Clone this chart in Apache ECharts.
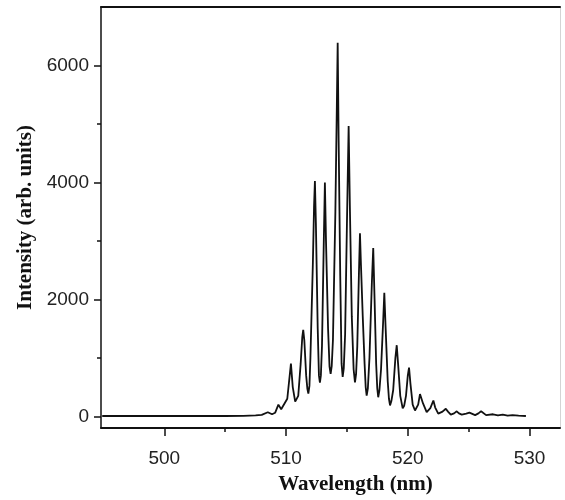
<!DOCTYPE html>
<html>
<head>
<meta charset="utf-8">
<style>
  html, body { margin: 0; padding: 0; background: #fff; }
  #chart { width: 565px; height: 500px; }
</style>
<script src="https://cdn.jsdelivr.net/npm/echarts@6/dist/echarts.min.js"></script>
</head>
<body>
<div id="chart"></div>
<script>
// Emission spectrum: wavelength (nm) and intensity (arb. units), traced point by point
const wavelength = [
  494.9, 500.0, 505.0, 506.5, 507.5, 508.0, 508.5, 508.85, 509.1, 509.37, 509.6, 509.75,
  510.1, 510.3, 510.4, 510.55, 510.75, 510.86,
  511.0, 511.2, 511.33, 511.41, 511.5, 511.65, 511.75, 511.83, 511.92,
  512.0, 512.2, 512.3, 512.37, 512.45, 512.6, 512.7, 512.78, 512.86,
  512.95, 513.1, 513.19, 513.28, 513.45, 513.57, 513.66, 513.75,
  513.85, 514.05, 514.17, 514.24, 514.32, 514.45, 514.56, 514.65, 514.74,
  514.85, 515.0, 515.14, 515.24, 515.4, 515.55, 515.66, 515.75,
  515.85, 515.98, 516.07, 516.15, 516.3, 516.45, 516.54, 516.62, 516.72,
  516.85, 517.05, 517.16, 517.27, 517.4, 517.49, 517.57, 517.67,
  517.8, 517.97, 518.07, 518.18, 518.35, 518.45, 518.54, 518.65,
  518.8, 518.98, 519.09, 519.2, 519.38, 519.58, 519.7,
  519.85, 520.0, 520.1, 520.22, 520.4, 520.59,
  520.85, 521.0, 521.09, 521.25, 521.55,
  521.85, 522.1, 522.25, 522.5,
  522.85, 523.12, 523.3, 523.53,
  523.8, 524.02, 524.2, 524.43,
  524.8, 525.06, 525.53,
  525.8, 526.02, 526.43,
  527.0, 527.4, 527.8, 528.2, 528.6, 529.1, 529.7
];
const intensity = [
  5, 5, 5, 8, 15, 25, 70, 35, 60, 200, 120, 100,
  300, 700, 900, 500, 250, 220,
  350, 900, 1350, 1480, 1300, 700, 470, 390, 520,
  1000, 2600, 3600, 4025, 3300, 1500, 700, 575, 700,
  1200, 3000, 4000, 3000, 1500, 850, 725, 860,
  1300, 3500, 5300, 6390, 4700, 2400, 900, 675, 820,
  1400, 3300, 4966, 3600, 1700, 800, 580, 720,
  1200, 2400, 3130, 2600, 1700, 900, 500, 355, 480,
  1000, 2300, 2877, 2000, 900, 480, 326, 450,
  800, 1600, 2111, 1500, 600, 300, 186, 260,
  450, 1000, 1216, 900, 350, 135, 180,
  350, 700, 833, 550, 200, 100,
  200, 380, 410, 220, 73,
  140, 270, 150, 45,
  80, 130, 80, 28,
  50, 85, 50, 28,
  45, 62, 20,
  50, 85, 20,
  35, 15, 30, 12, 20, 10, 5
];

// Axis ticks and labels
const xMajorTicks = [500, 510, 520, 530];
const xMinorTicks = [505, 515, 525];
const yMajorTicks = [0, 2000, 4000, 6000];
const yMinorTicks = [1000, 3000, 5000];

const xRange = { min: 494.8, max: 532.5 };
const yRange = { min: -200, max: 7000 };

const points = wavelength.map((w, i) => [w, intensity[i]]);

const labelFont = { fontFamily: 'Liberation Sans, Arial, sans-serif', fontSize: 19, color: '#222' };
const titleFont = { fontFamily: 'Liberation Serif, Times New Roman, serif', fontWeight: 'bold', fontSize: 21, color: '#111' };
const plain = v => String(v);

const chart = echarts.init(document.getElementById('chart'), null, { renderer: 'canvas' });
chart.setOption({
  animation: false,
  backgroundColor: '#fff',
  grid: { left: 101, right: 5, top: 7, bottom: 67, show: false },
  xAxis: [
    {
      type: 'value', position: 'bottom', ...xRange,
      axisLine: { show: true, onZero: false, lineStyle: { color: '#111', width: 2 } },
      axisTick: { show: true, inside: false, length: 8, customValues: xMajorTicks, lineStyle: { color: '#111', width: 1.5 } },
      axisLabel: { show: true, margin: 21, customValues: xMajorTicks, formatter: plain, ...labelFont },
      splitLine: { show: false },
      name: 'Wavelength (nm)', nameLocation: 'middle', nameGap: 46,
      nameTextStyle: { ...titleFont, padding: [0, 0, 0, 50] }
    },
    {
      type: 'value', position: 'bottom', ...xRange,
      axisLine: { show: false, onZero: false },
      axisTick: { show: true, inside: false, length: 4, customValues: xMinorTicks, lineStyle: { color: '#111', width: 1.5 } },
      axisLabel: { show: false },
      splitLine: { show: false }
    },
    {
      type: 'value', position: 'top', ...xRange,
      axisLine: { show: true, onZero: false, lineStyle: { color: '#111', width: 2 } },
      axisTick: { show: false }, axisLabel: { show: false }, splitLine: { show: false }
    }
  ],
  yAxis: [
    {
      type: 'value', position: 'left', ...yRange,
      axisLine: { show: true, onZero: false, lineStyle: { color: '#111', width: 1.5 } },
      axisTick: { show: true, inside: false, length: 7, customValues: yMajorTicks, lineStyle: { color: '#111', width: 1.5 } },
      axisLabel: { show: true, margin: 12, customValues: yMajorTicks, formatter: plain, ...labelFont },
      splitLine: { show: false },
      name: 'Intensity (arb. units)', nameLocation: 'middle', nameGap: 64, nameRotate: 90,
      nameTextStyle: titleFont
    },
    {
      type: 'value', position: 'left', ...yRange,
      axisLine: { show: false, onZero: false },
      axisTick: { show: true, inside: false, length: 4, customValues: yMinorTicks, lineStyle: { color: '#111', width: 1.5 } },
      axisLabel: { show: false },
      splitLine: { show: false }
    },
    {
      type: 'value', position: 'right', ...yRange,
      axisLine: { show: true, onZero: false, lineStyle: { color: '#d4d4d4', width: 1 } },
      axisTick: { show: false }, axisLabel: { show: false }, splitLine: { show: false }
    }
  ],
  series: [{
    type: 'line',
    xAxisIndex: 0,
    yAxisIndex: 0,
    data: points,
    showSymbol: false,
    smooth: false,
    lineStyle: { color: '#111', width: 1.8 }
  }]
});
</script>
</body>
</html>
